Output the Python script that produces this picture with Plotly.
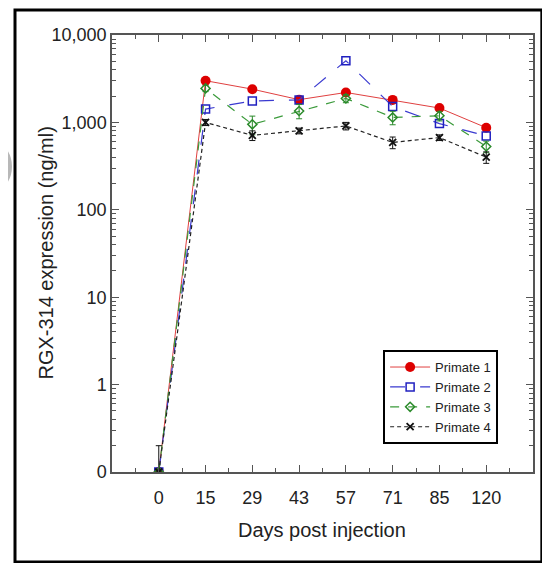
import plotly.graph_objects as go

# Days post injection (categorical)
days = ["0", "15", "29", "43", "57", "71", "85", "120"]

# RGX-314 expression (ng/ml); day 0 is below detection, drawn at the "0" floor (0.1)
primate1 = [0.1, 3000, 2400, 1820, 2200, 1810, 1460, 870]
primate2 = [0.1, 1420, 1760, 1810, 5080, 1520, 970, 700]
primate3 = [0.1, 2450, 950, 1350, 1880, 1140, 1190, 530]
primate4 = [0.1, 1000, 710, 800, 910, 590, 670, 400]

primate3_err = [0, 200, 230, 250, 200, 200, 150, 80]
primate4_err = [0.1, 80, 90, 60, 90, 90, 50, 60]
primate4_err_minus = [0, 80, 90, 60, 90, 90, 50, 60]

ytick_vals = [0.1, 1, 10, 100, 1000, 10000]
ytick_text = ["0", "1", "10", "100", "1,000", "10,000"]

x = list(range(len(days)))

fig = go.Figure()

fig.add_trace(go.Scatter(
    x=x, y=primate1, mode="lines+markers", name="Primate 1",
    line=dict(color="#e04040", width=1),
    marker=dict(symbol="circle", size=10, color="#dd0000"),
))
fig.add_trace(go.Scatter(
    x=x, y=primate2, mode="lines+markers", name="Primate 2",
    line=dict(color="#3a3ad0", width=1.2, dash="longdash"),
    marker=dict(symbol="square-open", size=8, color="#2020c0", line=dict(width=1.5)),
))
fig.add_trace(go.Scatter(
    x=x, y=primate3, mode="lines+markers", name="Primate 3",
    line=dict(color="#3a9a3a", width=1.2, dash="dash"),
    marker=dict(symbol="diamond-open", size=7, color="#2a8a2a", line=dict(width=1.5)),
    error_y=dict(type="data", array=primate3_err, color="#2a8a2a", thickness=1, width=3),
))
fig.add_trace(go.Scatter(
    x=x, y=primate4, mode="lines+markers", name="Primate 4",
    line=dict(color="#222222", width=1.2, dash="4px,3px"),
    marker=dict(symbol="x-thin-open", size=7, color="#111111", line=dict(width=1.8)),
    error_y=dict(type="data", symmetric=False, array=primate4_err,
                 arrayminus=primate4_err_minus, color="#111111", thickness=1, width=3),
))

# page body adds an 8px offset, so the figure is 8px smaller and margins shifted
fig.update_layout(
    width=542, height=555,
    margin=dict(l=104, r=17, t=27, b=91),
    paper_bgcolor="white", plot_bgcolor="white",
    font=dict(family="Liberation Sans, Arial, sans-serif", size=18, color="#222"),
    showlegend=True,
    legend=dict(
        x=0.644, y=0.279, xanchor="left", yanchor="top",
        bordercolor="black", borderwidth=2, bgcolor="white",
        font=dict(size=13), tracegroupgap=0, itemwidth=40,
    ),
    xaxis=dict(
        range=[-1, 8], tickmode="array", tickvals=x, ticktext=days, automargin=False,
        showgrid=False, zeroline=False, showline=True, linecolor="#555", linewidth=1.5,
        mirror="allticks", ticks="inside", ticklen=7, tickcolor="#555", tickwidth=1,
        ticklabelstandoff=9,
        minor=dict(tickmode="linear", tick0=-0.5, dtick=1,
                   ticks="inside", ticklen=4, tickcolor="#555", tickwidth=1),
    ),
    yaxis=dict(
        type="log", range=[-1, 4], tickmode="array", automargin=False,
        tickvals=ytick_vals, ticktext=ytick_text,
        showgrid=False, zeroline=False, showline=True, linecolor="#555", linewidth=1.5,
        mirror="allticks", ticks="inside", ticklen=7, tickcolor="#555", tickwidth=1,
        minor=dict(dtick="D1", ticks="inside", ticklen=4, tickcolor="#555", tickwidth=1),
    ),
)

# axis titles
fig.add_annotation(text="Days post injection", xref="paper", yref="paper",
                   x=0.499, y=-0.133, showarrow=False, font=dict(size=20),
                   xanchor="center", yanchor="middle")
fig.add_annotation(text="RGX-314 expression (ng/ml)", xref="paper", yref="paper",
                   x=-0.159, y=0.5, showarrow=False, font=dict(size=20),
                   textangle=-90, xanchor="center", yanchor="middle")

# outer frame of the panel
fig.add_shape(type="rect", xref="paper", yref="paper",
              x0=-0.2304, x1=1.021, y0=-0.206, y1=1.0572,
              line=dict(color="black", width=3))
# gray arc at the left edge
fig.add_shape(type="circle", xref="paper", yref="paper",
              x0=-0.366, x1=-0.2447, y0=0.638, y1=0.76,
              line=dict(color="#b8b8b8", width=6))

fig.write_html("out.html")
